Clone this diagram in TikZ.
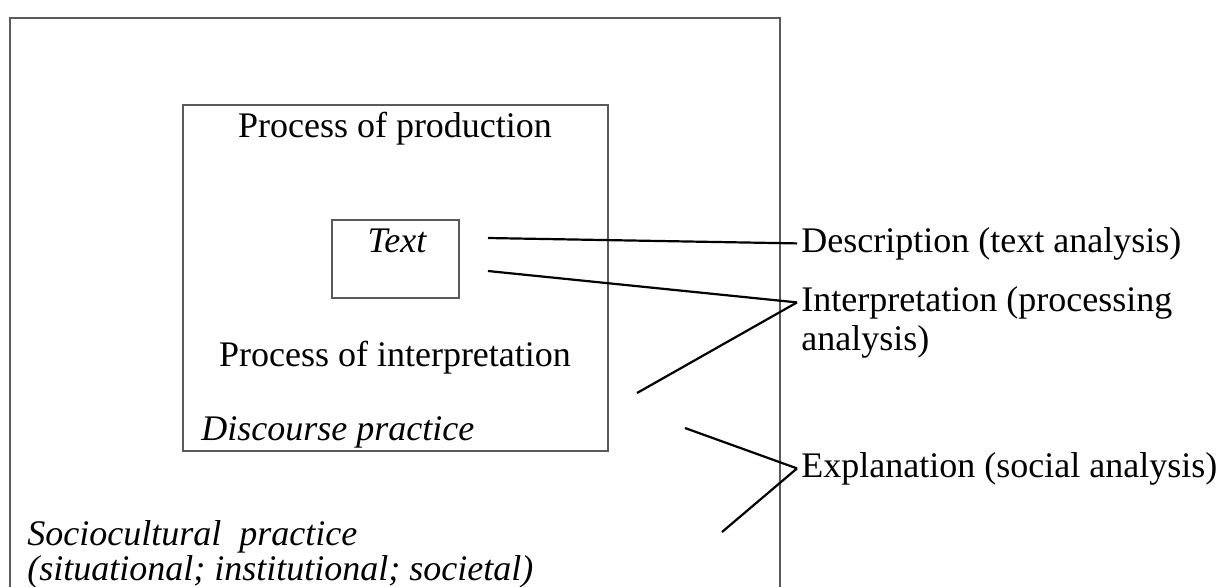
\documentclass[tikz,border=0pt]{standalone}
\usepackage{fontspec}
\setmainfont{Liberation Serif}
\usetikzlibrary{positioning}
\definecolor{marco}{HTML}{5A5A5A}
\newcommand{\letra}{\fontsize{18}{19}\selectfont}
\tikzset{
  every picture/.style={font=\letra},
  caja/.style={draw=marco, line width=0.8pt},
  rotulo/.style={inner sep=0pt, anchor=base},
  rotuloi/.style={inner sep=0pt, anchor=base west, font=\letra\itshape},
  nivel/.style={inner xsep=2pt, inner ysep=0pt, anchor=base west},
  enlace/.style={black, line width=1.1pt},
}
\begin{document}
\begin{tikzpicture}[x=0.5pt, y=-0.5pt]
  \useasboundingbox (0,0) rectangle (1220,586);
  \clip (0,0) rectangle (1220,586);
  % marcos
  \draw[caja] (10,18) rectangle (780,620);
  \draw[caja] (183,105) rectangle (608,451);
  \draw[caja] (332,220) rectangle (459,298);
  % rotulos de los marcos
  \node[rotulo] (prod) at (395,137) {Process of production};
  \node[rotulo, font=\letra\itshape] (texto) at (397,252) {Text};
  \node[rotulo] (interpre) at (395,366) {Process of interpretation};
  \node[rotuloi] (discurso) at (201,440) {Discourse practice};
  \node[rotuloi] (socio) at (27,545) {Sociocultural\ \ practice};
  \node[rotuloi] (sociob) at (27,580) {(situational; institutional; societal)};
  % niveles de analisis
  \node[nivel] (desc) at (797,252) {Description (text analysis)};
  \node[nivel] (interp) at (797,311) {Interpretation (processing};
  \node[nivel, below=0pt of interp.south west, anchor=north west, yshift=-3pt] (interpb) {analysis)};
  \node[nivel] (expl) at (797,477) {Explanation (social analysis)};
  \coordinate (d1) at (488,238);
  \coordinate (i1) at (488,271);
  \coordinate (i2) at (637,393);
  \coordinate (e1) at (685,428);
  \coordinate (e2) at (722,532);
  \draw[enlace] (d1) -- (desc.west);
  \draw[enlace] (i1) -- (interp.west);
  \draw[enlace] (i2) -- (interp.west);
  \draw[enlace] (e1) -- (expl.west);
  \draw[enlace] (e2) -- (expl.west);
\end{tikzpicture}
\end{document}
